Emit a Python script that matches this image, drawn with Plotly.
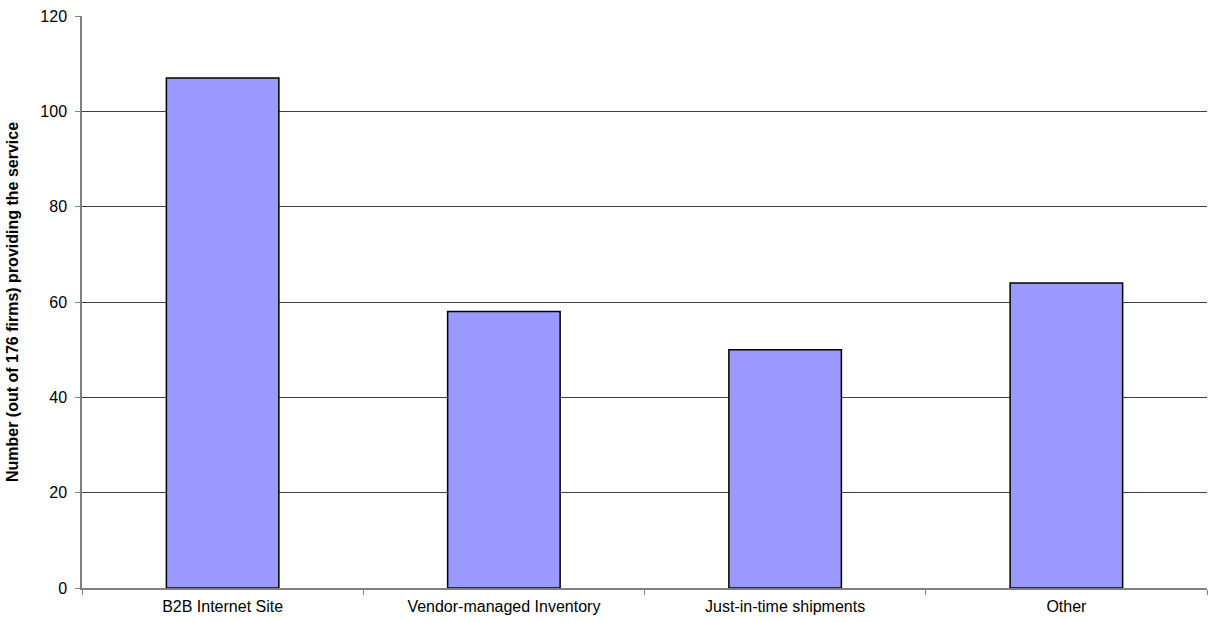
import plotly.graph_objects as go

categories = ["B2B Internet Site", "Vendor-managed Inventory", "Just-in-time shipments", "Other"]
values = [107, 58, 50, 64]
y_ticks = [0, 20, 40, 60, 80, 100, 120]

fig = go.Figure(go.Bar(
    x=categories, y=values,
    marker=dict(color="#9999FF", line=dict(color="#000000", width=1.5)),
    width=0.4,
))
fig.update_layout(
    width=1208, height=622,
    margin=dict(l=82, r=1, t=16, b=34),
    paper_bgcolor="white", plot_bgcolor="white",
    font=dict(family="Liberation Sans, Arial, sans-serif", size=16, color="#000"),
    showlegend=False,
)
fig.update_xaxes(
    type="category", tickson="boundaries", ticks="outside", ticklen=5,
    tickcolor="#808080", showline=True, linecolor="#808080", linewidth=1.5,
    showgrid=False, tickfont=dict(size=16), automargin=False,
    ticklabelstandoff=3,
)
fig.update_yaxes(
    range=[0, 120], tickvals=y_ticks, ticks="outside", ticklen=5,
    tickcolor="#808080", showline=True, linecolor="#808080", linewidth=1.5,
    showgrid=True, gridcolor="#404040", gridwidth=1, zeroline=False,
    tickfont=dict(size=16), automargin=False, ticklabelstandoff=5,
    title=dict(text="<b>Number (out of 176 firms) providing the service</b>",
               font=dict(size=16), standoff=18),
)
fig.write_html(
    "out.html",
    config={"displayModeBar": False},
    post_script="document.body.style.margin='0';document.body.style.overflow='hidden';",
)
